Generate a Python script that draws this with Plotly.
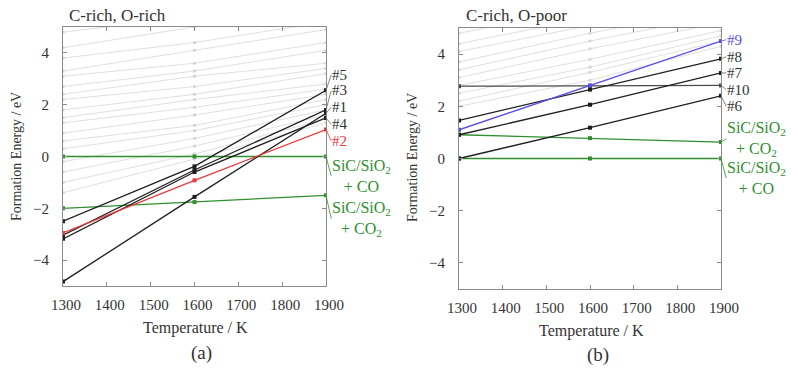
import plotly.graph_objects as go

T = [1300, 1600, 1900]

# ---- panel (a): C-rich, O-rich ----
a_gray = [
    [4.8, 5.4, 6.0], [4.2, 5.0, 5.6], [3.8, 4.4, 5.2], [3.3, 4.1, 4.9],
    [3.1, 3.6, 4.4], [2.7, 3.3, 4.1], [2.4, 3.1, 3.6], [2.2, 2.7, 3.4],
    [1.8, 2.4, 3.2], [1.5, 2.2, 2.8], [1.3, 1.9, 2.6], [0.9, 1.6, 2.4],
    [0.6, 1.2, 2.2], [0.3, 1.0, 2.0], [-0.2, 0.7, 1.8], [-0.6, 0.4, 1.6],
    [-1.0, 0.1, 1.45], [-1.4, -0.1, 1.3],
]
a_co = [0.0, 0.0, 0.0]
a_co2 = [-2.0, -1.76, -1.5]
a_black = {
    "#5": [-2.5, -0.38, 2.56],
    "#3": [-3.04, -0.52, 1.8],
    "#1": [-4.83, -1.56, 1.67],
    "#4": [-3.18, -0.6, 1.49],
}
a_red = {"#2": [-2.95, -0.92, 1.04]}
a_label_y = {"#5": 3.15, "#3": 2.55, "#1": 1.9, "#4": 1.25, "#2": 0.6}

# ---- panel (b): C-rich, O-poor ----
b_gray = [
    [4.8, 5.8, 6.8], [4.4, 5.4, 6.4], [4.1, 5.1, 6.1], [3.7, 4.8, 5.8],
    [3.4, 4.5, 5.5], [3.1, 4.2, 5.2], [2.8, 3.8, 4.9], [2.5, 3.5, 4.7],
    [2.2, 3.3, 4.5], [2.0, 3.0, 4.3],
]
b_co = [0.0, 0.0, 0.0]
b_co2 = [0.91, 0.78, 0.63]
b_h10 = {"#10": [2.77, 2.78, 2.8]}
b_black = {
    "#8": [1.46, 2.64, 3.82],
    "#7": [0.91, 2.06, 3.28],
    "#6": [0.0, 1.18, 2.4],
}
b_blue = {"#9": [1.1, 2.8, 4.5]}
b_label_y = {"#9": 4.55, "#8": 3.9, "#7": 3.28, "#10": 2.64, "#6": 2.0}

GRAY = "rgba(185,185,185,0.45)"
BLACK = "#1e1e1e"
GREEN = "#2f8f2f"
RED = "#e8383a"
BLUE = "#5a4ee6"
FONT = "Liberation Serif, Times New Roman, DejaVu Serif, serif"

fig = go.Figure()


def add(xa, ya, vals, color, width=1.3, msize=4):
    fig.add_trace(go.Scatter(
        x=T, y=vals, xaxis=xa, yaxis=ya, mode="lines+markers",
        line=dict(color=color, width=width),
        marker=dict(symbol="square", size=msize, color=color),
        showlegend=False, hoverinfo="skip", cliponaxis=True))


for g in a_gray:
    add("x", "y", g, GRAY, 1, 3)
add("x", "y", a_co, GREEN)
add("x", "y", a_co2, GREEN)
for k, v in a_black.items():
    add("x", "y", v, BLACK)
for k, v in a_red.items():
    add("x", "y", v, RED)

for g in b_gray:
    add("x2", "y2", g, GRAY, 1, 3)
add("x2", "y2", b_co, GREEN)
add("x2", "y2", b_co2, GREEN)
for k, v in b_h10.items():
    add("x2", "y2", v, "#4a4a4a")
for k, v in b_black.items():
    add("x2", "y2", v, BLACK)
for k, v in b_blue.items():
    add("x2", "y2", v, BLUE)

W, H = 793, 371


def px(x):
    return x / W


def py(y):
    return 1 - y / H


axis_common = dict(
    showgrid=False, zeroline=False, showline=True, linecolor="#8a8a8a",
    linewidth=1, mirror="ticks", ticks="inside", ticklen=4,
    automargin=False,
    tickcolor="#8a8a8a", tickfont=dict(family=FONT, size=15, color="#333"),
)
xextra = dict(range=[1300, 1900], dtick=100, ticklabelshift=3,
              ticklabelstandoff=5)
yextra = dict(range=[-5, 5], dtick=2, ticklabelstandoff=10)
fig.update_layout(
    width=W, height=H,
    margin=dict(l=0, r=0, t=0, b=0, autoexpand=False),
    paper_bgcolor="white", plot_bgcolor="white",
    font=dict(family=FONT),
    xaxis=dict(domain=[px(63), px(326)], anchor="y", **xextra, **axis_common),
    yaxis=dict(domain=[py(286), py(27)], anchor="x", **yextra, **axis_common),
    xaxis2=dict(domain=[px(459), px(721)], anchor="y2", **xextra, **axis_common),
    yaxis2=dict(domain=[py(289), py(28)], anchor="x2", **yextra, **axis_common),
)

ann = []


def label(xr, yr, yv, ly, text, color, lx=1912, size=15):
    ann.append(dict(
        x=1900, y=yv, xref=xr, yref=yr, ax=lx, ay=ly, axref=xr, ayref=yr,
        text=text, showarrow=True, arrowhead=0, arrowwidth=0.8,
        arrowcolor=color if color != "#333" else "#666",
        xanchor="left", yanchor="middle", align="center", borderpad=0,
        font=dict(family=FONT, size=size, color=color)))


for k, v in a_black.items():
    label("x", "y", v[2], a_label_y[k], k, "#333")
for k, v in a_red.items():
    label("x", "y", v[2], a_label_y[k], k, RED)
label("x", "y", a_co[2], -0.75, "SiC/SiO<sub>2</sub><br>+ CO", GREEN, size=16)
label("x", "y", a_co2[2], -2.4, "SiC/SiO<sub>2</sub><br>+ CO<sub>2</sub>", GREEN, size=16)

for k, v in b_blue.items():
    label("x2", "y2", v[2], b_label_y[k], k, BLUE)
for k, v in b_black.items():
    label("x2", "y2", v[2], b_label_y[k], k, "#333")
for k, v in b_h10.items():
    label("x2", "y2", v[2], b_label_y[k], k, "#333")
label("x2", "y2", b_co2[2], 0.75, "SiC/SiO<sub>2</sub><br>+ CO<sub>2</sub>", GREEN, size=16)
label("x2", "y2", b_co[2], -0.75, "SiC/SiO<sub>2</sub><br>+ CO", GREEN, size=16)

for (x, y, t, sz) in [
    (67, 15, "C-rich, O-rich", 17),
    (464, 16, "C-rich, O-poor", 17),
]:
    ann.append(dict(x=px(x), y=py(y), xref="paper", yref="paper", text=t,
                    showarrow=False, xanchor="left", yanchor="middle",
                    font=dict(family=FONT, size=sz, color="#333")))
for (x, y, t, sz, ang) in [
    (195, 328, "Temperature / K", 16, 0),
    (591, 331, "Temperature / K", 16, 0),
    (201, 353, "(a)", 19, 0),
    (598, 355, "(b)", 19, 0),
    (17, 157, "Formation Energy / eV", 14, -90),
    (412, 158, "Formation Energy / eV", 14, -90),
]:
    ann.append(dict(x=px(x), y=py(y), xref="paper", yref="paper", text=t,
                    showarrow=False, xanchor="center", yanchor="middle",
                    textangle=ang,
                    font=dict(family=FONT, size=sz, color="#333")))

fig.update_layout(annotations=ann)
fig.write_html("out.html")
